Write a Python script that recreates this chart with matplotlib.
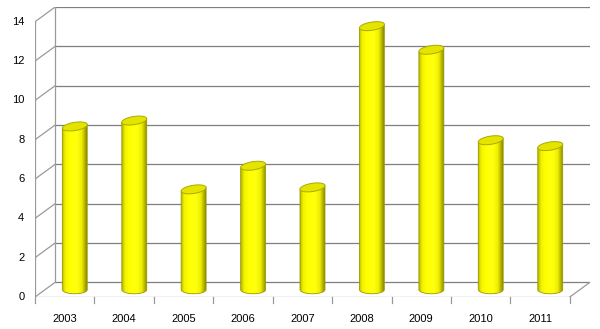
import numpy as np
import matplotlib
matplotlib.use("Agg")
import matplotlib.pyplot as plt
from matplotlib.patches import Polygon
from matplotlib.colors import LinearSegmentedColormap

years = ['2003', '2004', '2005', '2006', '2007', '2008', '2009', '2010', '2011']
values = [8.3, 8.6, 5.1, 6.3, 5.2, 13.4, 12.2, 7.6, 7.3]
yticks = [0, 2, 4, 6, 8, 10, 12, 14]

plt.rcParams['font.family'] = ['Liberation Sans', 'DejaVu Sans']

# fake 3d depth offset (data units)
dx, dy = 0.34, 0.75
bw = 0.42       # cylinder width
eh = 0.42       # ellipse height in value units
tilt = 0.09     # cap rises to the right

fig = plt.figure(figsize=(6, 3.29), dpi=100)
ax = fig.add_axes([35 / 600, 32 / 329, 555 / 600, 290 / 329])
ax.set_xlim(-0.5, 8.5 + dx)
ax.set_ylim(0, 14 + dy)
ax.axis('off')

grid = '#7f7f7f'
side = '#9a9a9a'
x0, x1 = -0.5, 8.5
for v in yticks:
    ax.plot([x0 + dx, x1 + dx], [v + dy, v + dy], color=grid, lw=0.9, zorder=1)
    ax.plot([x0, x0 + dx], [v, v + dy], color=side, lw=0.9, zorder=1)
    ax.plot([x0 - 0.07, x0], [v, v], color=side, lw=0.9, zorder=1)
    ax.text(x0 - 0.18, v, str(v), ha='right', va='center', fontsize=8, color='black')
ax.plot([x0 + dx, x0 + dx], [dy, 14 + dy], color=side, lw=0.9, zorder=1)
ax.plot([x0, x0], [0, 14], color=side, lw=0.9, zorder=1)
ax.plot([x0, x1], [0, 0], color=side, lw=0.9, zorder=1)
ax.plot([x1, x1 + dx], [0, dy], color=side, lw=0.9, zorder=1)
for i in range(len(years) + 1):
    ax.plot([x0 + i, x0 + i], [0, -0.3], color=side, lw=0.9, zorder=1, clip_on=False)
for i, y in enumerate(years):
    ax.text(i, -1.1, y, ha='center', va='center', fontsize=8, color='black')

cmap = LinearSegmentedColormap.from_list(
    'cyl', [(0, '#b8b800'), (0.12, '#f2f200'), (0.3, '#ffff00'), (0.6, '#ffff10'),
            (0.8, '#eeee00'), (1, '#8c8c00')])
grad = np.linspace(0, 1, 64).reshape(1, -1)

for i, v in enumerate(values):
    cx = i + dx / 2
    base = dy / 2
    top = v + dy / 2
    t = np.linspace(np.pi, 2 * np.pi, 40)
    lower = np.column_stack([cx + bw / 2 * np.cos(t), base + eh / 2 * np.sin(t)])
    pts = np.vstack([[cx - bw / 2, top - tilt], lower, [cx + bw / 2, top + tilt]])
    body = Polygon(pts, closed=True, facecolor='none', edgecolor='#9a9a00', lw=0.6, zorder=3)
    ax.add_patch(body)
    im = ax.imshow(grad, cmap=cmap, aspect='auto', zorder=2,
                   extent=[cx - bw / 2, cx + bw / 2, base - eh / 2, top + tilt])
    im.set_clip_path(body)
    tc = np.linspace(0, 2 * np.pi, 80)
    cap_pts = np.column_stack([cx + bw / 2 * np.cos(tc),
                               top + eh / 2 * np.sin(tc) - tilt * np.cos(tc) * -1])
    cap = Polygon(cap_pts, closed=True, facecolor='#e4e400', edgecolor='#aaaa00',
                  lw=0.7, zorder=4)
    ax.add_patch(cap)

fig.savefig('out.png', dpi=100)
